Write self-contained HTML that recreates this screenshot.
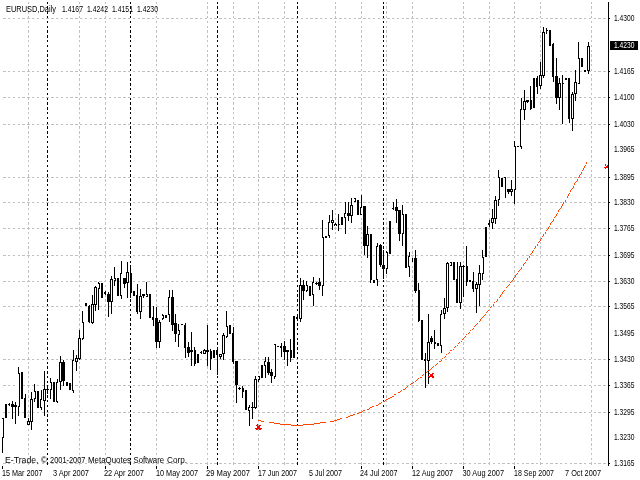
<!DOCTYPE html>
<html lang="en">
<head>
<meta charset="utf-8">
<title>EURUSD,Daily</title>
<style>
html,body{margin:0;padding:0;background:#fff;}
body{width:640px;height:480px;overflow:hidden;}
svg{display:block;}
svg text{font-family:"Liberation Sans",sans-serif;}
</style>
</head>
<body>
<svg width="640" height="480" viewBox="0 0 640 480">
<rect width="640" height="480" fill="#fff"/>
<g shape-rendering="crispEdges">
<path d="M3 18.5H608M3 71.5H608M3 97.5H608M3 124.5H608M3 177.5H608M3 202.5H608M3 228.5H608M3 255.5H608M3 281.5H608M3 306.5H608M3 359.5H608M3 385.5H608M3 412.5H608M3 463.5H608" fill="none" stroke="#c0c0c0" stroke-width="1" stroke-dasharray="3 2 2 3 2 3 2 2 3 2"/>
<path d="M28.5 2V465M79.5 2V465M105.5 2V465M156.5 2V465M207.5 2V465M233.5 2V465M258.5 2V465M284.5 2V465M335.5 2V465M361.5 2V465M386.5 2V465M412.5 2V465M463.5 2V465M489.5 2V465M514.5 2V465M540.5 2V465M591.5 2V465" fill="none" stroke="#c0c0c0" stroke-width="1" stroke-dasharray="2 2 3 2 3 2 2 3 2 3"/>
<path d="M47.5 2V465M130.5 2V465M217.5 2V465M297.5 2V465M383.5 2V465" fill="none" stroke="#000" stroke-width="1" stroke-dasharray="2 2 3 2 3 2 2 3 2 3"/>
<path d="M608 2h1v464h-1zM609 18h1v1h-1zM609 71h1v1h-1zM609 97h1v1h-1zM609 124h1v1h-1zM609 177h1v1h-1zM609 202h1v1h-1zM609 228h1v1h-1zM609 255h1v1h-1zM609 281h1v1h-1zM609 306h1v1h-1zM609 359h1v1h-1zM609 385h1v1h-1zM609 412h1v1h-1zM609 463h1v1h-1zM2 466h1v3h-1zM105 466h1v3h-1zM156 466h1v3h-1zM207 466h1v3h-1zM258 466h1v3h-1zM361 466h1v3h-1zM412 466h1v3h-1zM463 466h1v3h-1zM514 466h1v3h-1z" fill="#000"/>
<path d="M2 419h1v18h-1zM18 374h1v32h-1zM28 422h1v2h-1zM31 400h1v21h-1zM34 392h1v6h-1zM41 400h1v7h-1zM44 390h1v10h-1zM50 383h1v6h-1zM57 383h1v18h-1zM60 363h1v18h-1zM73 361h1v29h-1zM76 359h1v2h-1zM79 339h1v19h-1zM82 323h1v15h-1zM92 305h1v17h-1zM95 288h1v16h-1zM98 284h1v4h-1zM111 280h1v21h-1zM114 279h1v1h-1zM121 274h1v21h-1zM127 273h1v9h-1zM140 297h1v14h-1zM146 295h1v1h-1zM159 323h1v18h-1zM162 316h1v2h-1zM169 298h1v16h-1zM178 331h1v3h-1zM204 351h1v2h-1zM220 355h1v1h-1zM223 336h1v17h-1zM226 327h1v9h-1zM249 408h1v2h-1zM255 380h1v27h-1zM258 377h1v2h-1zM265 362h1v3h-1zM274 345h1v31h-1zM300 286h1v32h-1zM306 286h1v4h-1zM313 283h1v11h-1zM322 238h1v47h-1zM329 223h1v12h-1zM332 221h1v1h-1zM345 214h1v3h-1zM351 206h1v9h-1zM354 199h1v2h-1zM361 208h1v6h-1zM367 235h1v10h-1zM377 247h1v32h-1zM386 253h1v15h-1zM402 215h1v18h-1zM409 257h1v9h-1zM428 343h1v17h-1zM441 315h1v30h-1zM444 309h1v4h-1zM447 264h1v43h-1zM450 263h1v2h-1zM460 267h1v35h-1zM476 285h1v3h-1zM479 274h1v10h-1zM482 258h1v15h-1zM492 219h1v3h-1zM495 201h1v17h-1zM498 178h1v21h-1zM511 190h1v1h-1zM514 147h1v42h-1zM521 110h1v36h-1zM524 102h1v7h-1zM540 76h1v9h-1zM543 33h1v42h-1zM559 84h1v13h-1zM572 95h1v23h-1zM575 83h1v10h-1zM578 59h1v24h-1zM588 47h1v23h-1z" fill="#fff"/>
<path d="M3 418h1v20h-1zM2 418h1v1h-1zM2 437h1v16h-1zM5 404h1v14h-1zM6 404h1v14h-1zM8 404h1v1h-1zM9 403h1v3h-1zM11 404h1v3h-1zM13 404h1v3h-1zM12 401h1v18h-1zM14 405h1v2h-1zM16 405h1v2h-1zM15 402h1v22h-1zM19 373h1v34h-1zM18 367h1v7h-1zM18 406h1v10h-1zM21 372h1v27h-1zM22 372h1v27h-1zM24 398h1v20h-1zM25 394h1v24h-1zM27 421h1v4h-1zM29 421h1v4h-1zM28 418h1v4h-1zM28 424h1v1h-1zM30 399h1v23h-1zM32 399h1v23h-1zM31 392h1v8h-1zM31 421h1v9h-1zM35 391h1v8h-1zM34 384h1v8h-1zM34 398h1v4h-1zM37 391h1v17h-1zM38 391h1v17h-1zM40 399h1v9h-1zM41 390h1v10h-1zM41 407h1v3h-1zM43 389h1v12h-1zM45 389h1v12h-1zM44 371h1v19h-1zM44 400h1v16h-1zM46 389h1v1h-1zM48 389h1v1h-1zM47 385h1v9h-1zM51 382h1v8h-1zM50 378h1v5h-1zM50 389h1v10h-1zM53 382h1v20h-1zM54 382h1v20h-1zM56 382h1v20h-1zM57 379h1v4h-1zM57 401h1v2h-1zM59 362h1v20h-1zM61 362h1v20h-1zM60 356h1v7h-1zM60 381h1v9h-1zM62 362h1v19h-1zM64 362h1v19h-1zM63 360h1v26h-1zM67 382h1v4h-1zM66 382h1v4h-1zM69 383h1v7h-1zM70 383h1v7h-1zM72 360h1v31h-1zM73 350h1v11h-1zM73 390h1v3h-1zM75 358h1v4h-1zM77 358h1v4h-1zM76 355h1v4h-1zM76 361h1v10h-1zM78 338h1v21h-1zM80 338h1v21h-1zM79 330h1v9h-1zM79 358h1v2h-1zM83 322h1v17h-1zM82 311h1v12h-1zM82 338h1v2h-1zM85 303h1v3h-1zM86 303h1v3h-1zM88 306h1v16h-1zM89 305h1v18h-1zM91 304h1v19h-1zM93 304h1v19h-1zM92 295h1v10h-1zM92 322h1v2h-1zM94 287h1v18h-1zM96 287h1v18h-1zM95 286h1v2h-1zM95 304h1v7h-1zM99 283h1v6h-1zM98 282h1v2h-1zM98 288h1v22h-1zM101 283h1v15h-1zM102 283h1v15h-1zM104 292h1v2h-1zM105 291h1v4h-1zM107 294h1v8h-1zM109 294h1v8h-1zM108 292h1v25h-1zM110 279h1v23h-1zM112 279h1v23h-1zM111 276h1v4h-1zM111 301h1v13h-1zM115 278h1v3h-1zM114 267h1v12h-1zM114 280h1v6h-1zM117 278h1v18h-1zM118 278h1v18h-1zM120 273h1v23h-1zM121 261h1v13h-1zM121 295h1v4h-1zM123 278h1v6h-1zM125 278h1v6h-1zM124 278h1v10h-1zM126 272h1v11h-1zM128 272h1v11h-1zM127 262h1v11h-1zM127 282h1v16h-1zM131 273h1v20h-1zM130 265h1v33h-1zM133 291h1v5h-1zM134 291h1v5h-1zM136 295h1v17h-1zM137 284h1v30h-1zM139 296h1v16h-1zM141 296h1v16h-1zM140 289h1v8h-1zM140 311h1v8h-1zM142 294h1v2h-1zM144 294h1v2h-1zM143 294h1v4h-1zM147 294h1v3h-1zM146 282h1v13h-1zM146 296h1v1h-1zM149 294h1v24h-1zM150 294h1v24h-1zM152 317h1v3h-1zM153 306h1v20h-1zM155 318h1v24h-1zM157 318h1v24h-1zM156 307h1v41h-1zM158 322h1v20h-1zM160 322h1v20h-1zM159 320h1v3h-1zM159 341h1v7h-1zM163 315h1v4h-1zM162 314h1v2h-1zM162 318h1v2h-1zM165 315h1v3h-1zM166 315h1v3h-1zM168 297h1v18h-1zM169 290h1v8h-1zM169 314h1v8h-1zM171 297h1v28h-1zM173 297h1v28h-1zM172 290h1v41h-1zM174 323h1v11h-1zM176 323h1v11h-1zM175 314h1v28h-1zM179 330h1v5h-1zM178 324h1v7h-1zM178 334h1v13h-1zM181 324h1v1h-1zM182 324h1v1h-1zM184 325h1v23h-1zM185 323h1v35h-1zM187 347h1v6h-1zM189 347h1v6h-1zM188 342h1v15h-1zM190 350h1v2h-1zM192 350h1v2h-1zM191 332h1v34h-1zM195 350h1v14h-1zM194 347h1v19h-1zM197 354h1v9h-1zM198 354h1v9h-1zM200 352h1v1h-1zM201 351h1v3h-1zM203 350h1v4h-1zM205 350h1v4h-1zM204 349h1v2h-1zM204 353h1v1h-1zM206 350h1v2h-1zM208 350h1v2h-1zM207 325h1v41h-1zM211 351h1v8h-1zM210 349h1v21h-1zM213 350h1v8h-1zM214 350h1v8h-1zM216 350h1v5h-1zM217 347h1v28h-1zM219 354h1v3h-1zM221 354h1v3h-1zM220 354h1v1h-1zM220 356h1v3h-1zM222 335h1v19h-1zM224 335h1v19h-1zM223 333h1v3h-1zM223 353h1v7h-1zM227 326h1v11h-1zM226 311h1v16h-1zM226 336h1v2h-1zM229 325h1v9h-1zM230 325h1v9h-1zM232 333h1v29h-1zM233 327h1v37h-1zM235 361h1v24h-1zM237 361h1v24h-1zM236 361h1v42h-1zM238 388h1v1h-1zM240 388h1v1h-1zM239 387h1v3h-1zM243 388h1v4h-1zM242 386h1v12h-1zM245 390h1v20h-1zM246 390h1v20h-1zM248 407h1v4h-1zM249 405h1v3h-1zM249 410h1v16h-1zM251 407h1v1h-1zM253 407h1v1h-1zM252 402h1v17h-1zM254 379h1v29h-1zM256 379h1v29h-1zM255 376h1v4h-1zM255 407h1v2h-1zM259 376h1v4h-1zM258 376h1v1h-1zM258 379h1v3h-1zM261 365h1v13h-1zM262 365h1v13h-1zM264 361h1v5h-1zM265 357h1v5h-1zM265 365h1v13h-1zM267 362h1v11h-1zM269 362h1v11h-1zM268 357h1v18h-1zM270 372h1v4h-1zM272 372h1v4h-1zM271 369h1v14h-1zM275 344h1v33h-1zM274 344h1v1h-1zM274 376h1v3h-1zM277 346h1v1h-1zM278 346h1v1h-1zM280 346h1v2h-1zM281 343h1v14h-1zM283 346h1v6h-1zM285 346h1v6h-1zM284 341h1v19h-1zM286 350h1v2h-1zM288 350h1v2h-1zM287 350h1v16h-1zM291 350h1v8h-1zM290 339h1v23h-1zM293 316h1v42h-1zM294 316h1v42h-1zM296 317h1v2h-1zM297 314h1v7h-1zM299 285h1v34h-1zM301 285h1v34h-1zM300 278h1v8h-1zM300 318h1v4h-1zM302 285h1v6h-1zM304 285h1v6h-1zM303 280h1v20h-1zM307 285h1v6h-1zM306 281h1v5h-1zM306 290h1v2h-1zM309 286h1v10h-1zM310 286h1v10h-1zM312 282h1v13h-1zM313 277h1v6h-1zM313 294h1v12h-1zM315 283h1v1h-1zM317 283h1v1h-1zM316 282h1v3h-1zM318 282h1v4h-1zM320 282h1v4h-1zM319 278h1v12h-1zM323 237h1v49h-1zM322 220h1v18h-1zM322 285h1v11h-1zM325 236h1v2h-1zM326 236h1v2h-1zM328 222h1v14h-1zM329 215h1v8h-1zM329 235h1v3h-1zM331 220h1v3h-1zM333 220h1v3h-1zM332 210h1v11h-1zM332 222h1v8h-1zM334 224h1v2h-1zM336 224h1v2h-1zM335 223h1v2h-1zM339 224h1v1h-1zM338 214h1v17h-1zM341 217h1v8h-1zM342 217h1v8h-1zM344 213h1v5h-1zM345 202h1v12h-1zM345 217h1v17h-1zM347 213h1v3h-1zM349 213h1v3h-1zM348 202h1v19h-1zM350 205h1v11h-1zM352 205h1v11h-1zM351 198h1v8h-1zM351 215h1v8h-1zM355 198h1v4h-1zM354 198h1v1h-1zM354 201h1v1h-1zM357 200h1v15h-1zM358 200h1v15h-1zM360 207h1v8h-1zM361 195h1v13h-1zM361 214h1v1h-1zM363 206h1v40h-1zM365 206h1v40h-1zM364 206h1v49h-1zM366 234h1v12h-1zM368 234h1v12h-1zM367 226h1v9h-1zM367 245h1v13h-1zM371 234h1v46h-1zM370 234h1v49h-1zM373 280h1v3h-1zM374 280h1v3h-1zM376 246h1v34h-1zM377 243h1v4h-1zM377 279h1v7h-1zM379 245h1v20h-1zM381 245h1v20h-1zM380 244h1v23h-1zM382 265h1v4h-1zM384 265h1v4h-1zM383 250h1v29h-1zM387 252h1v17h-1zM386 251h1v2h-1zM386 268h1v6h-1zM389 221h1v33h-1zM390 221h1v33h-1zM392 208h1v1h-1zM393 202h1v8h-1zM395 207h1v4h-1zM397 207h1v4h-1zM396 199h1v24h-1zM398 210h1v24h-1zM400 210h1v24h-1zM399 210h1v31h-1zM403 214h1v20h-1zM402 205h1v10h-1zM402 233h1v13h-1zM405 214h1v54h-1zM406 214h1v54h-1zM408 256h1v11h-1zM409 252h1v5h-1zM409 266h1v11h-1zM412 258h1v4h-1zM414 258h1v33h-1zM416 258h1v33h-1zM415 250h1v43h-1zM419 290h1v31h-1zM418 283h1v39h-1zM421 320h1v40h-1zM422 320h1v40h-1zM424 359h1v2h-1zM425 353h1v35h-1zM427 342h1v19h-1zM429 342h1v19h-1zM428 314h1v29h-1zM428 360h1v24h-1zM430 338h1v4h-1zM432 338h1v4h-1zM431 336h1v8h-1zM435 342h1v2h-1zM434 330h1v19h-1zM437 343h1v3h-1zM438 343h1v3h-1zM440 314h1v32h-1zM441 310h1v5h-1zM441 345h1v8h-1zM443 308h1v6h-1zM445 308h1v6h-1zM444 298h1v11h-1zM444 313h1v6h-1zM446 263h1v45h-1zM448 263h1v45h-1zM447 262h1v2h-1zM447 307h1v5h-1zM451 262h1v4h-1zM450 262h1v1h-1zM450 265h1v1h-1zM453 262h1v18h-1zM454 262h1v18h-1zM456 279h1v24h-1zM457 262h1v41h-1zM459 266h1v37h-1zM461 266h1v37h-1zM460 262h1v5h-1zM460 302h1v7h-1zM462 266h1v1h-1zM464 266h1v1h-1zM463 265h1v32h-1zM467 266h1v16h-1zM466 246h1v40h-1zM469 280h1v2h-1zM470 280h1v2h-1zM472 281h1v8h-1zM473 272h1v20h-1zM475 284h1v5h-1zM477 284h1v5h-1zM476 282h1v3h-1zM476 288h1v25h-1zM478 273h1v12h-1zM480 273h1v12h-1zM479 265h1v9h-1zM479 284h1v22h-1zM483 257h1v17h-1zM482 250h1v8h-1zM482 273h1v7h-1zM485 227h1v30h-1zM486 227h1v30h-1zM488 223h1v2h-1zM489 220h1v7h-1zM491 218h1v5h-1zM493 218h1v5h-1zM492 209h1v10h-1zM492 222h1v7h-1zM494 200h1v19h-1zM496 200h1v19h-1zM495 196h1v5h-1zM495 218h1v6h-1zM499 177h1v23h-1zM498 170h1v8h-1zM498 199h1v7h-1zM501 178h1v9h-1zM502 178h1v9h-1zM504 177h1v1h-1zM505 177h1v21h-1zM507 189h1v3h-1zM509 189h1v3h-1zM508 189h1v5h-1zM510 189h1v3h-1zM512 189h1v3h-1zM511 180h1v10h-1zM511 191h1v5h-1zM515 146h1v44h-1zM514 141h1v6h-1zM514 189h1v15h-1zM517 146h1v1h-1zM518 146h1v1h-1zM520 109h1v38h-1zM521 98h1v12h-1zM521 146h1v3h-1zM523 101h1v9h-1zM525 101h1v9h-1zM524 90h1v12h-1zM524 109h1v11h-1zM526 100h1v2h-1zM528 100h1v2h-1zM527 100h1v3h-1zM531 100h1v9h-1zM530 86h1v24h-1zM533 78h1v30h-1zM534 78h1v30h-1zM536 78h1v9h-1zM537 76h1v18h-1zM539 75h1v11h-1zM541 75h1v11h-1zM540 62h1v14h-1zM540 85h1v4h-1zM542 32h1v44h-1zM544 32h1v44h-1zM543 27h1v6h-1zM543 75h1v3h-1zM547 30h1v1h-1zM546 28h1v6h-1zM549 30h1v16h-1zM550 30h1v16h-1zM552 44h1v33h-1zM553 43h1v39h-1zM555 76h1v22h-1zM557 76h1v22h-1zM556 58h1v46h-1zM558 83h1v15h-1zM560 83h1v15h-1zM559 78h1v6h-1zM559 97h1v13h-1zM563 83h1v1h-1zM562 75h1v49h-1zM565 78h1v2h-1zM566 78h1v2h-1zM568 78h1v41h-1zM569 78h1v45h-1zM571 94h1v25h-1zM573 94h1v25h-1zM572 92h1v3h-1zM572 118h1v13h-1zM574 82h1v12h-1zM576 82h1v12h-1zM575 70h1v13h-1zM575 93h1v8h-1zM579 58h1v26h-1zM578 42h1v17h-1zM578 83h1v1h-1zM581 58h1v9h-1zM582 58h1v9h-1zM584 70h1v2h-1zM585 70h1v2h-1zM587 46h1v25h-1zM589 46h1v25h-1zM588 42h1v5h-1zM588 70h1v4h-1z" fill="#000"/>
<rect x="610" y="41" width="28" height="9" fill="#000"/>
</g>
<g shape-rendering="crispEdges"><path d="M497 299h1v1h-1zM280 424h11v1h-11zM303 424h11v1h-11zM556 214h1v1h-1zM449 352h1v1h-1zM563 203h1v1h-1zM532 251h1v1h-1zM398 392h2v1h-2zM500 295h1v1h-1zM390 397h2v1h-2zM539 241h1v1h-1zM291 425h12v1h-12zM403 389h2v1h-2zM394 394h2v1h-2zM548 227h1v1h-1zM476 324h1v1h-1zM274 423h6v1h-6zM314 423h6v1h-6zM258 420h3v1h-3zM334 420h3v1h-3zM508 285h1v1h-1zM453 349h1v1h-1zM511 281h1v1h-1zM367 409h2v1h-2zM523 264h1v1h-1zM372 406h2v1h-2zM340 418h2v1h-2zM563 202h1v1h-1zM418 378h1v1h-1zM269 422h5v1h-5zM320 422h6v1h-6zM386 399h2v1h-2zM433 366h1v1h-1zM468 333h1v1h-1zM261 421h3v1h-3zM330 421h4v1h-4zM422 375h1v1h-1zM570 191h1v1h-1zM465 336h1v1h-1zM348 416h2v1h-2zM559 209h1v1h-1zM363 410h2v1h-2zM496 301h1v1h-1zM359 412h3v1h-3zM499 297h1v1h-1zM555 216h1v1h-1zM535 247h1v1h-1zM480 320h1v1h-1zM444 357h1v1h-1zM437 363h1v1h-1zM562 205h1v1h-1zM542 236h1v1h-1zM519 270h1v1h-1zM392 396h2v1h-2zM570 190h1v1h-1zM502 293h1v1h-1zM526 260h1v1h-1zM405 388h1v1h-1zM385 400h1v1h-1zM483 316h1v1h-1zM574 183h1v1h-1zM558 211h1v1h-1zM370 407h2v1h-2zM337 419h3v1h-3zM491 306h1v1h-1zM494 302h1v1h-1zM448 353h1v1h-1zM475 325h1v1h-1zM562 204h1v1h-1zM565 200h1v1h-1zM463 338h1v1h-1zM466 334h1v1h-1zM388 398h2v1h-2zM486 312h1v1h-1zM376 405h2v1h-2zM401 390h1v1h-1zM350 415h3v1h-3zM381 402h1v1h-1zM413 382h1v1h-1zM502 292h1v1h-1zM585 165h1v1h-1zM538 242h1v1h-1zM561 207h1v1h-1zM428 370h2v1h-2zM450 350h2v1h-2zM357 413h2v1h-2zM513 279h1v1h-1zM525 262h1v1h-1zM581 172h1v1h-1zM537 245h1v1h-1zM362 411h1v1h-1zM442 358h1v1h-1zM541 238h1v1h-1zM346 417h2v1h-2zM458 343h1v1h-1zM415 381h1v1h-1zM561 206h1v1h-1zM407 386h1v1h-1zM510 282h1v1h-1zM455 346h1v1h-1zM513 278h1v1h-1zM534 248h1v1h-1zM557 213h1v1h-1zM584 167h1v1h-1zM537 244h1v1h-1zM493 305h1v1h-1zM470 330h1v1h-1zM439 361h2v1h-2zM521 268h1v1h-1zM580 174h1v1h-1zM553 220h1v1h-1zM426 372h1v1h-1zM383 401h2v1h-2zM411 383h2v1h-2zM516 274h1v1h-1zM430 369h1v1h-1zM485 314h1v1h-1zM353 414h2v1h-2zM462 339h1v1h-1zM540 240h1v1h-1zM482 317h1v1h-1zM576 181h1v1h-1zM568 195h1v1h-1zM457 345h1v1h-1zM477 323h1v1h-1zM446 354h1v1h-1zM584 166h1v1h-1zM493 304h1v1h-1zM572 188h1v1h-1zM441 360h1v1h-1zM488 310h1v1h-1zM379 403h2v1h-2zM501 294h1v1h-1zM504 290h1v1h-1zM551 222h1v1h-1zM469 332h1v1h-1zM420 377h2v1h-2zM540 239h1v1h-1zM535 246h1v1h-1zM568 194h1v1h-1zM480 319h1v1h-1zM547 229h1v1h-1zM512 280h1v1h-1zM524 263h1v1h-1zM583 169h1v1h-1zM472 329h1v1h-1zM507 286h1v1h-1zM531 253h1v1h-1zM445 356h1v1h-1zM579 176h1v1h-1zM417 379h1v1h-1zM560 208h1v1h-1zM515 276h1v1h-1zM527 259h1v1h-1zM406 387h1v1h-1zM558 210h1v1h-1zM410 384h1v1h-1zM500 296h1v1h-1zM567 197h1v1h-1zM583 168h1v1h-1zM575 182h1v1h-1zM554 217h1v1h-1zM543 235h1v1h-1zM432 367h1v1h-1zM523 265h1v1h-1zM579 175h1v1h-1zM436 364h1v1h-1zM571 189h1v1h-1zM550 224h1v1h-1zM515 275h1v1h-1zM464 337h1v1h-1zM484 315h1v1h-1zM487 311h1v1h-1zM527 258h1v1h-1zM378 404h1v1h-1zM567 196h1v1h-1zM479 321h1v1h-1zM543 234h1v1h-1zM369 408h1v1h-1zM490 307h1v1h-1zM582 170h1v1h-1zM518 271h1v1h-1zM503 291h1v1h-1zM550 223h1v1h-1zM506 287h1v1h-1zM530 254h1v1h-1zM400 391h1v1h-1zM586 163h1v1h-1zM423 374h1v1h-1zM578 177h1v1h-1zM459 342h1v1h-1zM416 380h1v1h-1zM546 230h1v1h-1zM549 226h1v1h-1zM509 284h1v1h-1zM474 326h1v1h-1zM574 184h1v1h-1zM521 267h1v1h-1zM577 180h1v1h-1zM553 219h1v1h-1zM533 250h1v1h-1zM545 233h1v1h-1zM427 371h1v1h-1zM573 187h1v1h-1zM529 257h1v1h-1zM565 201h1v1h-1zM431 368h1v1h-1zM586 162h1v1h-1zM435 365h1v1h-1zM514 277h1v1h-1zM461 341h1v1h-1zM497 300h1v1h-1zM454 347h1v1h-1zM556 215h1v1h-1zM577 179h1v1h-1zM545 232h1v1h-1zM581 173h1v1h-1zM473 328h1v1h-1zM517 273h1v1h-1zM573 186h1v1h-1zM520 269h1v1h-1zM529 256h1v1h-1zM552 221h1v1h-1zM532 252h1v1h-1zM569 193h1v1h-1zM481 318h1v1h-1zM548 228h1v1h-1z" fill="#ff4500"/><path d="M257 424h1v1h-1zM256 425h1v1h-1zM257 425h1v1h-1zM259 425h1v1h-1zM260 425h1v1h-1zM257 426h1v1h-1zM258 426h1v1h-1zM259 426h1v1h-1zM257 427h1v1h-1zM258 427h1v1h-1zM259 427h1v1h-1zM255 428h1v1h-1zM256 428h1v1h-1zM257 428h1v1h-1zM258 428h1v1h-1zM259 428h1v1h-1zM260 428h1v1h-1zM261 428h1v1h-1zM256 429h1v1h-1zM257 429h1v1h-1zM259 429h1v1h-1zM260 429h1v1h-1zM429 373h1v1h-1zM432 373h1v1h-1zM433 373h1v1h-1zM430 374h1v1h-1zM431 374h1v1h-1zM432 374h1v1h-1zM430 375h1v1h-1zM431 375h1v1h-1zM432 375h1v1h-1zM428 376h1v1h-1zM429 376h1v1h-1zM430 376h1v1h-1zM431 376h1v1h-1zM432 376h1v1h-1zM433 376h1v1h-1zM429 377h1v1h-1zM432 377h1v1h-1zM433 377h1v1h-1zM605 164h1v1h-1zM605 165h1v1h-1zM607 165h1v1h-1zM606 166h1v1h-1zM607 166h1v1h-1zM604 167h1v1h-1zM605 167h1v1h-1zM606 167h1v1h-1zM607 167h1v1h-1zM605 168h1v1h-1z" fill="#ff0000"/></g>
<g>
<text x="6" y="12" font-size="8.5" fill="#000" textLength="50" lengthAdjust="spacingAndGlyphs">EURUSD,Daily</text>
<text x="62" y="12" font-size="8.5" fill="#000" textLength="21" lengthAdjust="spacingAndGlyphs">1.4167</text>
<text x="87" y="12" font-size="8.5" fill="#000" textLength="21" lengthAdjust="spacingAndGlyphs">1.4242</text>
<text x="112" y="12" font-size="8.5" fill="#000" textLength="21" lengthAdjust="spacingAndGlyphs">1.4151</text>
<text x="137" y="12" font-size="8.5" fill="#000" textLength="21" lengthAdjust="spacingAndGlyphs">1.4230</text>
<text x="5" y="463" font-size="8.5" fill="#000" textLength="33.5" lengthAdjust="spacingAndGlyphs">E-Trade,</text>
<text x="41" y="463" font-size="8.5" fill="#000" textLength="6" lengthAdjust="spacingAndGlyphs">©</text>
<text x="50" y="463" font-size="8.5" fill="#000" textLength="35.5" lengthAdjust="spacingAndGlyphs">2001-2007</text>
<text x="88" y="463" font-size="8.5" fill="#000" textLength="43" lengthAdjust="spacingAndGlyphs">MetaQuotes</text>
<text x="133.5" y="463" font-size="8.5" fill="#000" textLength="30.5" lengthAdjust="spacingAndGlyphs">Software</text>
<text x="167" y="463" font-size="8.5" fill="#000" textLength="20" lengthAdjust="spacingAndGlyphs">Corp.</text>
<text x="2" y="476" font-size="8.5" fill="#000" textLength="40.5" lengthAdjust="spacingAndGlyphs">15 Mar 2007</text>
<text x="53" y="476" font-size="8.5" fill="#000" textLength="36" lengthAdjust="spacingAndGlyphs">3 Apr 2007</text>
<text x="104" y="476" font-size="8.5" fill="#000" textLength="40" lengthAdjust="spacingAndGlyphs">22 Apr 2007</text>
<text x="156" y="476" font-size="8.5" fill="#000" textLength="42" lengthAdjust="spacingAndGlyphs">10 May 2007</text>
<text x="206" y="476" font-size="8.5" fill="#000" textLength="44" lengthAdjust="spacingAndGlyphs">29 May 2007</text>
<text x="258" y="476" font-size="8.5" fill="#000" textLength="39" lengthAdjust="spacingAndGlyphs">17 Jun 2007</text>
<text x="309" y="476" font-size="8.5" fill="#000" textLength="33" lengthAdjust="spacingAndGlyphs">5 Jul 2007</text>
<text x="360" y="476" font-size="8.5" fill="#000" textLength="37.5" lengthAdjust="spacingAndGlyphs">24 Jul 2007</text>
<text x="412" y="476" font-size="8.5" fill="#000" textLength="41" lengthAdjust="spacingAndGlyphs">12 Aug 2007</text>
<text x="462.5" y="476" font-size="8.5" fill="#000" textLength="41.5" lengthAdjust="spacingAndGlyphs">30 Aug 2007</text>
<text x="514" y="476" font-size="8.5" fill="#000" textLength="40" lengthAdjust="spacingAndGlyphs">18 Sep 2007</text>
<text x="565" y="476" font-size="8.5" fill="#000" textLength="36" lengthAdjust="spacingAndGlyphs">7 Oct 2007</text>
<text x="614" y="21" font-size="8.5" fill="#000" textLength="20.5" lengthAdjust="spacingAndGlyphs">1.4300</text>
<text x="614" y="74" font-size="8.5" fill="#000" textLength="20.5" lengthAdjust="spacingAndGlyphs">1.4165</text>
<text x="614" y="100" font-size="8.5" fill="#000" textLength="20.5" lengthAdjust="spacingAndGlyphs">1.4100</text>
<text x="614" y="127" font-size="8.5" fill="#000" textLength="20.5" lengthAdjust="spacingAndGlyphs">1.4030</text>
<text x="614" y="152" font-size="8.5" fill="#000" textLength="20.5" lengthAdjust="spacingAndGlyphs">1.3965</text>
<text x="614" y="180" font-size="8.5" fill="#000" textLength="20.5" lengthAdjust="spacingAndGlyphs">1.3895</text>
<text x="614" y="205" font-size="8.5" fill="#000" textLength="20.5" lengthAdjust="spacingAndGlyphs">1.3830</text>
<text x="614" y="231" font-size="8.5" fill="#000" textLength="20.5" lengthAdjust="spacingAndGlyphs">1.3765</text>
<text x="614" y="258" font-size="8.5" fill="#000" textLength="20.5" lengthAdjust="spacingAndGlyphs">1.3695</text>
<text x="614" y="284" font-size="8.5" fill="#000" textLength="20.5" lengthAdjust="spacingAndGlyphs">1.3630</text>
<text x="614" y="309" font-size="8.5" fill="#000" textLength="20.5" lengthAdjust="spacingAndGlyphs">1.3565</text>
<text x="614" y="336" font-size="8.5" fill="#000" textLength="20.5" lengthAdjust="spacingAndGlyphs">1.3495</text>
<text x="614" y="362" font-size="8.5" fill="#000" textLength="20.5" lengthAdjust="spacingAndGlyphs">1.3430</text>
<text x="614" y="388" font-size="8.5" fill="#000" textLength="20.5" lengthAdjust="spacingAndGlyphs">1.3365</text>
<text x="614" y="415" font-size="8.5" fill="#000" textLength="20.5" lengthAdjust="spacingAndGlyphs">1.3295</text>
<text x="614" y="440" font-size="8.5" fill="#000" textLength="20.5" lengthAdjust="spacingAndGlyphs">1.3230</text>
<text x="614" y="466" font-size="8.5" fill="#000" textLength="20.5" lengthAdjust="spacingAndGlyphs">1.3165</text>
<text x="614" y="48" font-size="8.5" fill="#fff" textLength="20.5" lengthAdjust="spacingAndGlyphs">1.4230</text>
</g>
</svg>
</body>
</html>
